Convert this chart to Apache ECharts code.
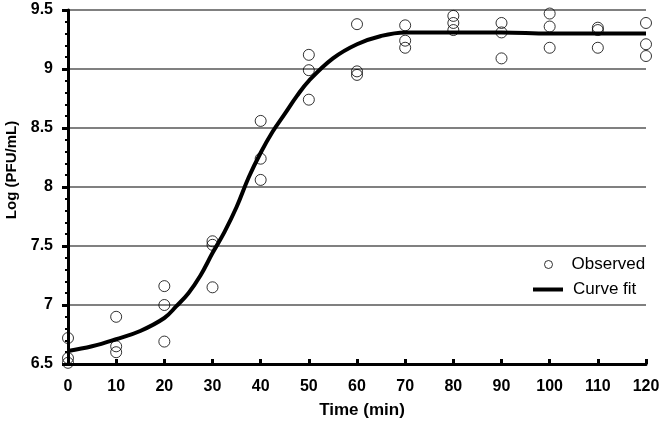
<!DOCTYPE html>
<html>
<head>
<meta charset="utf-8">
<script src="https://cdn.jsdelivr.net/npm/echarts@6/dist/echarts.min.js"></script>
<style>html,body{margin:0;padding:0;background:#fff;}#c{width:664px;height:424px;}</style>
</head>
<body>
<div id="c"></div>
<script>
// Observed data: [time (min), log PFU/mL]
var obsTime = [0,0,0, 10,10,10, 20,20,20, 30,30,30, 40,40,40, 50,50,50, 60,60,60, 70,70,70, 80,80,80, 90,90,90, 100,100,100, 110,110,110, 120,120,120];
var obsValue = [6.72,6.55,6.51, 6.90,6.65,6.60, 7.16,7.00,6.69, 7.54,7.51,7.15, 8.56,8.24,8.06, 9.12,8.99,8.74, 9.38,8.98,8.95, 9.37,9.24,9.18, 9.45,9.39,9.33, 9.39,9.31,9.09, 9.47,9.36,9.18, 9.35,9.33,9.18, 9.39,9.21,9.11];
// Curve fit
var fitTime = [0,5,10,15,20,22.5,25,27.5,30,32.5,35,37.5,40,42.5,45,47.5,50,55,60,65,70,80,90,100,110,120];
var fitValue = [6.61,6.65,6.71,6.78,6.89,6.99,7.10,7.25,7.44,7.62,7.83,8.08,8.29,8.47,8.62,8.77,8.90,9.09,9.21,9.28,9.31,9.31,9.31,9.30,9.30,9.30];
var xTicks = {min:0, max:120, interval:10};
var yTicks = {min:6.5, max:9.5, interval:0.5};

var obs = obsTime.map(function(t,i){return [t, obsValue[i]];});
var fit = fitTime.map(function(t,i){return [t, fitValue[i]];});
var FONT = 'Liberation Sans, Arial, sans-serif';

var chart = echarts.init(document.getElementById('c'), null, {renderer:'canvas'});
chart.setOption({
  animation:false,
  backgroundColor:'#fff',
  grid:{left:68, right:18, top:10, bottom:60, containLabel:false, outerBoundsMode:'none'},
  xAxis:{
    type:'value', min:xTicks.min, max:xTicks.max, interval:xTicks.interval,
    name:'Time (min)', nameLocation:'middle', nameGap:38,
    nameTextStyle:{fontFamily:FONT, fontWeight:'bold', fontSize:17, color:'#000', padding:[0,0,0,10]},
    axisLine:{show:true, onZero:false, lineStyle:{color:'#000', width:3}},
    axisTick:{show:true, inside:true, length:5, lineStyle:{color:'#000', width:3}},
    axisLabel:{fontFamily:FONT, fontWeight:'bold', fontSize:16, color:'#000', margin:15},
    splitLine:{show:false}
  },
  yAxis:{
    type:'value', min:yTicks.min, max:yTicks.max, interval:yTicks.interval,
    name:'Log (PFU/mL)', nameLocation:'middle', nameGap:48, nameRotate:90,
    nameTextStyle:{fontFamily:FONT, fontWeight:'bold', fontSize:15, color:'#000', padding:[0,0,0,34]},
    axisLine:{show:true, onZero:false, lineStyle:{color:'#000', width:3}},
    axisTick:{show:true, inside:false, length:6, lineStyle:{color:'#000', width:3}},
    minorTick:{show:true, splitNumber:5, length:3, lineStyle:{color:'#000', width:2}},
    axisLabel:{fontFamily:FONT, fontWeight:'bold', fontSize:16, color:'#000', margin:15},
    splitLine:{show:true, lineStyle:{color:'#808080', width:2}}
  },
  legend:[
    {data:[{name:'Observed', icon:'circle'}], left:544, top:256, orient:'vertical', padding:0,
     itemWidth:8, itemHeight:8, itemStyle:{color:'#fff', borderColor:'#000', borderWidth:1},
     textStyle:{fontFamily:FONT, fontSize:17, color:'#000', padding:[0,0,0,14]}},
    {data:[{name:'Curve fit', icon:'rect'}], left:533, top:281, orient:'vertical', padding:0,
     itemWidth:30, itemHeight:4, itemStyle:{color:'#000', borderWidth:0},
     textStyle:{fontFamily:FONT, fontSize:17, color:'#000', padding:[0,0,0,5]}}
  ],
  series:[
    {name:'Curve fit', type:'line', data:fit, smooth:0.4, showSymbol:false, symbol:'none',
     lineStyle:{color:'#000', width:4}, z:3},
    {name:'Observed', type:'scatter', data:obs, symbol:'circle', symbolSize:11,
     itemStyle:{color:'rgba(255,255,255,0)', borderColor:'#000', borderWidth:1}, z:4}
  ]
});
</script>
</body>
</html>
